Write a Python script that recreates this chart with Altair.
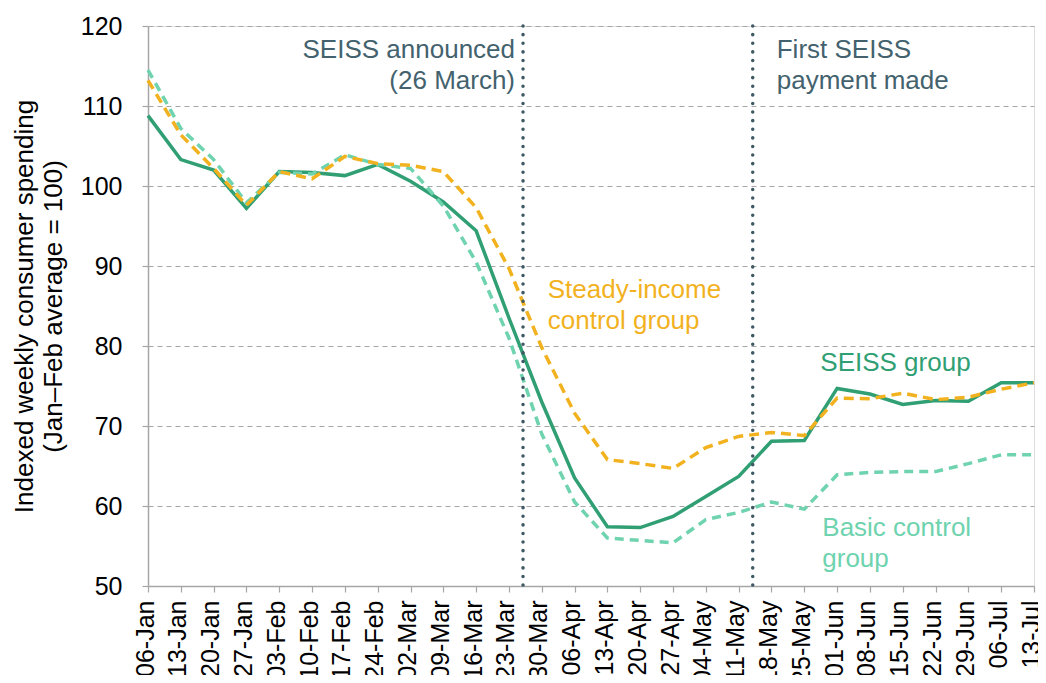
import altair as alt
import pandas as pd

# ---- data ----
weeks = ["2020-01-06", "2020-01-13", "2020-01-20", "2020-01-27",
         "2020-02-03", "2020-02-10", "2020-02-17", "2020-02-24",
         "2020-03-02", "2020-03-09", "2020-03-16", "2020-03-23", "2020-03-30",
         "2020-04-06", "2020-04-13", "2020-04-20", "2020-04-27",
         "2020-05-04", "2020-05-11", "2020-05-18", "2020-05-25",
         "2020-06-01", "2020-06-08", "2020-06-15", "2020-06-22", "2020-06-29",
         "2020-07-06", "2020-07-13"]

seiss = [108.8, 103.3, 102.0, 97.2, 101.8, 101.7, 101.3, 102.7, 100.6, 98.0,
         94.4, 83.5, 73.0, 63.5, 57.4, 57.3, 58.7, 61.2, 63.7, 68.1, 68.2,
         74.7, 74.0, 72.7, 73.2, 73.1, 75.4, 75.4]
steady = [113.2, 106.4, 102.2, 97.6, 101.8, 100.9, 103.7, 102.8, 102.6, 101.8,
          97.3, 89.7, 79.8, 71.6, 65.8, 65.3, 64.7, 67.3, 68.7, 69.2, 68.8,
          73.5, 73.4, 74.1, 73.3, 73.6, 74.6, 75.4]
basic = [114.5, 107.2, 103.3, 97.9, 101.7, 101.5, 103.9, 102.7, 102.2, 97.5,
         90.5, 81.0, 69.0, 60.5, 56.0, 55.7, 55.4, 58.3, 59.2, 60.5, 59.6,
         63.9, 64.2, 64.3, 64.3, 65.3, 66.4, 66.4]

event_dates = ["2020-03-26", "2020-05-14"]

annot_texts = ["SEISS announced\n(26 March)", "First SEISS\npayment made",
               "Steady-income\ncontrol group", "SEISS group", "Basic control\ngroup"]
annot_dates = ["2020-03-26", "2020-05-14", "2020-03-30", "2020-05-25", "2020-05-25"]
annot_values = [117.0, 117.0, 87.0, 77.9, 57.25]
annot_align = ["right", "left", "left", "left", "left"]
annot_dx = [-8, 24, 6, 16, 18]
annot_colors = ["#43626E", "#43626E", "#F2B21F", "#319F74", "#6ED3AE"]

y_ticks = [50, 60, 70, 80, 90, 100, 110, 120]

FONT = "Liberation Sans"
GRID = "#A6A6A6"


def ms(d):
    return int(pd.Timestamp(d, tz="UTC").timestamp() * 1000)


tick_ms = [ms(w) for w in weeks]

x_enc = alt.X(
    "week:T",
    scale=alt.Scale(type="utc", domain=[tick_ms[0], tick_ms[-1]], nice=False),
    axis=alt.Axis(values=tick_ms, format="%d-%b", labelAngle=-90, title=None,
                  labelFontSize=25, labelColor="#000000", labelFont=FONT,
                  tickSize=6, tickColor=GRID, domainColor=GRID, domainWidth=1.5,
                  tickWidth=1.2, labelPadding=8, labelOffset=-3, grid=False,
                  labelOverlap=False, labelFlush=False),
)
y_enc = alt.Y(
    "value:Q",
    scale=alt.Scale(domain=[50, 120], nice=False, zero=False),
    axis=alt.Axis(values=y_ticks, title=["Indexed weekly consumer spending",
                                          "(Jan–Feb average = 100)"],
                  titleFontSize=26, titleFontWeight="normal", titleColor="#000000",
                  titleFont=FONT, titlePadding=14, titleLineHeight=29,
                  labelFontSize=25, labelColor="#000000", labelFont=FONT,
                  tickSize=6, tickColor=GRID, domainColor=GRID, domainWidth=1.5,
                  tickWidth=1.2, labelPadding=20, grid=True, gridDash=[5, 4],
                  gridColor=GRID, gridWidth=1.2),
)


def series_df(vals):
    return pd.DataFrame({"week": weeks, "value": vals})


line_seiss = alt.Chart(series_df(seiss)).mark_line(
    color="#319F74", strokeWidth=3.5).encode(x=x_enc, y=y_enc)
line_basic = alt.Chart(series_df(basic)).mark_line(
    color="#6ED3AE", strokeWidth=3.5, strokeDash=[9, 6]).encode(x=x_enc, y=y_enc)
line_steady = alt.Chart(series_df(steady)).mark_line(
    color="#F2B21F", strokeWidth=3.5, strokeDash=[10, 6]).encode(x=x_enc, y=y_enc)

rules = alt.Chart(pd.DataFrame({"week": event_dates})).mark_rule(
    color="#3F5964", strokeWidth=3.5, strokeDash=[0.1, 8.5], strokeCap="round"
).encode(x=x_enc)

texts = []
for t, d, v, a, dx, c in zip(annot_texts, annot_dates, annot_values,
                             annot_align, annot_dx, annot_colors):
    texts.append(
        alt.Chart(pd.DataFrame({"week": [d], "value": [v], "label": [t]}))
        .mark_text(align=a, baseline="middle", dx=dx, fontSize=26, font=FONT,
                   lineBreak="\n", lineHeight=31, color=c)
        .encode(x=x_enc, y=y_enc, text="label:N")
    )

chart = alt.layer(line_seiss, line_basic, line_steady, rules, *texts).properties(
    width=886, height=560,
    autosize=alt.AutoSizeParams(type="none"),
    padding={"left": 140, "top": 18, "right": 4, "bottom": 89},
).configure_view(strokeWidth=0).configure(font=FONT, background="#FFFFFF")

chart.save("out.html", embed_options={"renderer": "svg", "actions": False})
